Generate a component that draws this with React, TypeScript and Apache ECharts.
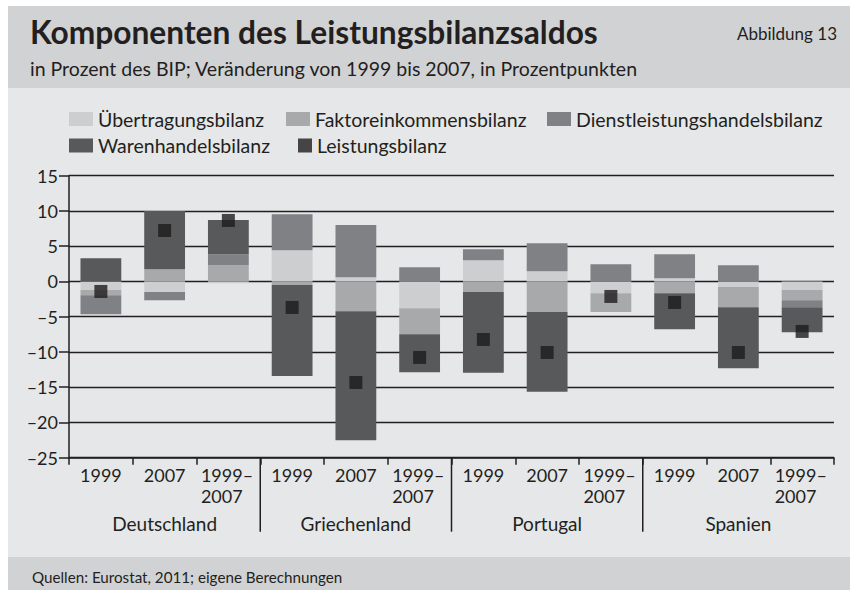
import React, { useEffect, useRef } from "react";
import * as echarts from "echarts";

const countries = ["Deutschland", "Griechenland", "Portugal", "Spanien"];
const periods = ["1999", "2007", "1999–\n2007"];
const categories = countries.flatMap(() => periods);

const yTicks = { min: -25, max: 15, interval: 5 };

const seriesNames = [
  "Übertragungsbilanz",
  "Faktoreinkommensbilanz",
  "Dienstleistungshandelsbilanz",
  "Warenhandelsbilanz",
  "Leistungsbilanz",
];

const uebertragung = [-1.23, -1.5, -0.25, 4.44, 0.61, -3.79, 3.02, 1.46, -1.66, 0.47, -0.8, -1.23];
const faktor = [-0.71, 1.74, 2.3, -0.52, -4.21, -3.69, -1.51, -4.35, -2.69, -1.66, -2.85, -1.42];
const dienst = [-2.7, -1.15, 1.57, 5.1, 7.38, 2.03, 1.56, 3.97, 2.45, 3.4, 2.31, -1.0];
const waren = [3.3, 8.26, 4.83, -12.9, -18.3, -5.39, -11.45, -11.3, 0, -5.11, -8.65, -3.54];
const leistung = [-1.42, 7.23, 8.65, -3.69, -14.33, -10.78, -8.23, -10.08, -2.13, -2.98, -10.08, -7.09];

// index of first category of each country after the first (separator positions)
const countryStarts = [3, 6, 9];

const colors = ["#cdcecf", "#a8a9ab", "#808184", "#58595b", "#1e1b1c"];
const ink = "#231f20";
const FONT = "Lato";

export default function App() {
  const ref = useRef<HTMLDivElement>(null);

  useEffect(() => {
    if (!ref.current) return;
    const chart = echarts.init(ref.current, undefined, { renderer: "svg" });

    const legendBase = {
      padding: 0,
      itemWidth: 24,
      itemHeight: 14,
      icon: "rect",
      selectedMode: false,
      textStyle: { fontFamily: FONT, fontSize: 19.5, color: ink, padding: [0, 0, 0, 0] },
    };

    const barSeries = [uebertragung, faktor, dienst, waren].map((d, i) => ({
      name: seriesNames[i],
      type: "bar",
      stack: "total",
      barWidth: "64%",
      data: d,
      itemStyle: { color: colors[i] },
      z: 2,
    }));

    const option: any = {
      animation: false,
      backgroundColor: "#ffffff",
      textStyle: { fontFamily: FONT },
      graphic: [
        { type: "rect", z: -10, shape: { x: 8, y: 6, width: 842, height: 82 }, style: { fill: "#d1d2d4" } },
        { type: "rect", z: -10, shape: { x: 8, y: 88, width: 842, height: 469 }, style: { fill: "#e6e7e8" } },
        { type: "rect", z: -10, shape: { x: 8, y: 557, width: 842, height: 33 }, style: { fill: "#d1d2d4" } },
        {
          type: "text", z: 10, x: 30, y: 32,
          style: { text: "Komponenten des Leistungsbilanzsaldos", fontFamily: FONT, fontWeight: "bold", fontSize: 31.7, fill: ink, verticalAlign: "middle" },
        },
        {
          type: "text", z: 10, x: 837, y: 33,
          style: { text: "Abbildung 13", fontFamily: FONT, fontSize: 17, fill: ink, align: "right", verticalAlign: "middle" },
        },
        {
          type: "text", z: 10, x: 30, y: 68,
          style: { text: "in Prozent des BIP; Veränderung von 1999 bis 2007, in Prozentpunkten", fontFamily: FONT, fontSize: 19.5, fill: ink, verticalAlign: "middle" },
        },
        {
          type: "text", z: 10, x: 32, y: 577,
          style: { text: "Quellen: Eurostat, 2011; eigene Berechnungen", fontFamily: FONT, fontSize: 15.2, fill: ink, verticalAlign: "middle" },
        },
      ],
      legend: [
        { ...legendBase, data: [seriesNames[0]], left: 69, top: 109 },
        { ...legendBase, data: [seriesNames[1]], left: 286, top: 109 },
        { ...legendBase, data: [seriesNames[2]], left: 547, top: 109 },
        { ...legendBase, data: [seriesNames[3]], left: 69, top: 135.5 },
        { ...legendBase, itemWidth: 14, itemHeight: 14, data: [seriesNames[4]], left: 298, top: 135.5 },
      ],
      grid: { left: 69, right: 16, top: 175.7, bottom: 132.3 },
      xAxis: [
        {
          type: "category",
          data: categories,
          position: "bottom",
          axisLine: { onZero: false, lineStyle: { color: ink, width: 1.5 } },
          axisTick: { show: true, length: 7, lineStyle: { color: ink, width: 1.5 } },
          axisLabel: {
            interval: 0,
            margin: 7,
            color: ink,
            fontFamily: FONT,
            fontSize: 18,
            formatter: (v: string) => {
              const parts = v.split("\n");
              if (parts.length === 1) return `{c|${v}}`;
              return parts.map((p) => `{l|${p}}`).join("\n");
            },
            rich: {
              c: { fontFamily: FONT, fontSize: 18, color: ink, lineHeight: 21 },
              l: { fontFamily: FONT, fontSize: 18, color: ink, lineHeight: 21, width: 55, align: "left" },
            },
          },
        },
        {
          type: "category",
          data: countries,
          position: "bottom",
          axisLine: { show: false, onZero: false },
          axisTick: { show: false },
          axisLabel: { interval: 0, margin: 54.5, color: ink, fontFamily: FONT, fontSize: 19, lineHeight: 22 },
        },
      ],
      yAxis: {
        type: "value",
        min: yTicks.min,
        max: yTicks.max,
        interval: yTicks.interval,
        axisLine: { show: true, lineStyle: { color: ink, width: 1.5 } },
        axisTick: { show: true, length: 10, lineStyle: { color: ink, width: 1.5 } },
        axisLabel: {
          margin: 11,
          color: ink,
          fontFamily: FONT,
          fontSize: 18,
          formatter: (v: number) => (v < 0 ? "–" + Math.abs(v) : String(v)),
        },
        splitLine: { show: true, lineStyle: { color: ink, width: 1.4 } },
      },
      series: [
        ...barSeries,
        {
          name: seriesNames[4],
          type: "scatter",
          symbol: "rect",
          symbolSize: 13,
          data: leistung,
          itemStyle: { color: colors[4] },
          z: 5,
        },
        {
          name: "separators",
          type: "custom",
          xAxisIndex: 0,
          clip: false,
          silent: true,
          data: countryStarts.map((i) => [i, yTicks.min]),
          encode: { x: 0, y: 1 },
          renderItem: (params: any, api: any) => {
            const c = api.coord([api.value(0), api.value(1)]);
            const bw = api.size([1, 0])[0];
            const x = c[0] - bw / 2;
            return {
              type: "line",
              shape: { x1: x, y1: c[1], x2: x, y2: c[1] + 74 },
              style: { stroke: ink, lineWidth: 1.5 },
            };
          },
          z: 6,
        },
      ],
    };

    chart.setOption(option);
    return () => chart.dispose();
  }, []);

  return (
    <div
      ref={ref}
      style={{ position: "absolute", left: 0, top: 0, width: 850, height: 590 }}
    />
  );
}
